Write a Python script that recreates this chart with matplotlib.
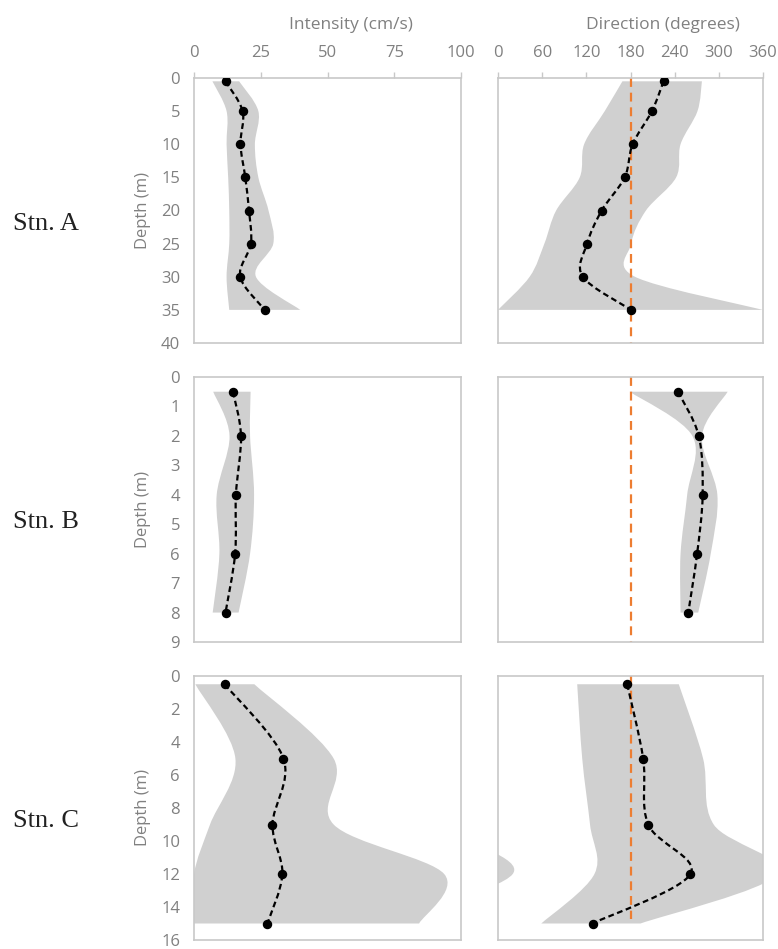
import numpy as np
import matplotlib
matplotlib.use("Agg")
import matplotlib.pyplot as plt
from matplotlib.path import Path
from matplotlib.patches import PathPatch

# ---------------- data ----------------
stations = ["Stn. A", "Stn. B", "Stn. C"]

depth_A = [0.5, 5, 10, 15, 20, 25, 30, 35]
int_mean_A = [11.8, 18.2, 17.4, 19.2, 20.6, 21.3, 17.3, 26.5]
int_low_A = [6.9, 12.2, 12.2, 12.8, 13.2, 13.2, 12.2, 13.2]
int_high_A = [16.9, 24.1, 22.8, 24.1, 27.9, 29.7, 23.2, 39.8]
dir_mean_A = [224.9, 209.1, 182.9, 172.1, 140.9, 121.0, 115.2, 180.7]
dir_low_A = [169, 145, 117, 111, 79, 63, 43, 0]
dir_high_A = [277, 271, 248, 242, 201, 181, 186, 360]

depth_B = [0.5, 2, 4, 6, 8]
int_mean_B = [14.6, 17.6, 15.7, 15.4, 11.8]
int_low_B = [7.2, 13.3, 8.5, 9.5, 7.0]
int_high_B = [21.2, 21.0, 22.5, 21.0, 16.7]
dir_mean_B = [244.5, 272.7, 278.0, 270.5, 258.5]
dir_low_B = [179, 264, 257, 248, 248]
dir_high_B = [312, 277, 298, 289, 272]

depth_C = [0.5, 5, 9, 12, 15]
int_mean_C = [11.5, 33.5, 29.4, 33.1, 27.5]
int_low_C = [0.5, 15.5, 6.0, 0.0, 0.0]
int_high_C = [22.6, 52.3, 52.3, 93.7, 84.3]
dir_mean_C = [175.5, 197.2, 204.0, 261.4, 128.4]
dir_low_C = [107.6, 114.4, 125, 131, 58.8]
dir_high_C = [245.6, 278.6, 293, 380, 193.6]

depth_max = [40, 9, 16]
depth_step = [5, 1, 2]
ref_direction = 180
ref_line_depths = [(0, 40), (0, 9), (0, 14.7)]

int_ticks = [0, 25, 50, 75, 100]
dir_ticks = [0, 60, 120, 180, 240, 300, 360]

# ---------------- style ----------------
W, H = 778, 949
GRAY_TXT = "#808080"
FRAME = "#c8c8c8"
BAND = "#d0d0d0"
ORANGE = "#ED7D31"
FONT = "Open Sans"
TICK_FS = 12

fig = plt.figure(figsize=(W / 100, H / 100), dpi=100)


def smooth_segs(pts):
    pts = np.asarray(pts, float)
    n = len(pts)
    verts, codes = [], []
    for i in range(n - 1):
        p0 = pts[i - 1] if i > 0 else pts[i]
        p1 = pts[i]
        p2 = pts[i + 1]
        p3 = pts[i + 2] if i + 2 < n else pts[i + 1]
        c1 = p1 + (p2 - p0) / 6.0
        c2 = p2 - (p3 - p1) / 6.0
        verts += [tuple(c1), tuple(c2), tuple(p2)]
        codes += [Path.CURVE4] * 3
    return verts, codes


def band_path(depths, low, high, shift=0.0):
    up = [(h + shift, d) for h, d in zip(high, depths)]
    lo = [(l + shift, d) for l, d in zip(low, depths)][::-1]
    verts = [up[0]]
    codes = [Path.MOVETO]
    v, c = smooth_segs(up)
    verts += v
    codes += c
    verts.append(lo[0])
    codes.append(Path.LINETO)
    v, c = smooth_segs(lo)
    verts += v
    codes += c
    verts.append(up[0])
    codes.append(Path.CLOSEPOLY)
    return Path(verts, codes)


def line_path(depths, vals):
    pts = [(v, d) for v, d in zip(vals, depths)]
    verts = [pts[0]]
    codes = [Path.MOVETO]
    v, c = smooth_segs(pts)
    return Path(verts + v, codes + c)


rows_top = [78, 377, 676]
rows_bot = [343, 642, 940]
int_lr = (194, 461)
dir_lr = (498, 763)

data = [
    (depth_A, int_mean_A, int_low_A, int_high_A, dir_mean_A, dir_low_A, dir_high_A),
    (depth_B, int_mean_B, int_low_B, int_high_B, dir_mean_B, dir_low_B, dir_high_B),
    (depth_C, int_mean_C, int_low_C, int_high_C, dir_mean_C, dir_low_C, dir_high_C),
]


def make_ax(lr, top, bot):
    rect = [lr[0] / W, 1 - bot / H, (lr[1] - lr[0]) / W, (bot - top) / H]
    ax = fig.add_axes(rect)
    for s in ax.spines.values():
        s.set_color(FRAME)
        s.set_linewidth(1.2)
    return ax


for r in range(3):
    dep, im, il, ih, dm, dl, dh = data[r]
    top, bot = rows_top[r], rows_bot[r]
    for kind in ("int", "dir"):
        lr = int_lr if kind == "int" else dir_lr
        ax = make_ax(lr, top, bot)
        if kind == "int":
            ax.set_xlim(0, 100)
            ax.add_patch(PathPatch(band_path(dep, il, ih), facecolor=BAND, edgecolor="none", zorder=1))
            mean = im
        else:
            ax.set_xlim(0, 360)
            ax.add_patch(PathPatch(band_path(dep, dl, dh), facecolor=BAND, edgecolor="none", zorder=1))
            ax.add_patch(PathPatch(band_path(dep, dl, dh, shift=-360), facecolor=BAND, edgecolor="none", zorder=1))
            y0, y1 = ref_line_depths[r]
            ax.plot([ref_direction, ref_direction], [y0, y1], color=ORANGE, lw=1.6,
                    ls=(0, (4, 2.6)), zorder=2, clip_on=True)
            mean = dm
        ax.add_patch(PathPatch(line_path(dep, mean), facecolor="none", edgecolor="black",
                               lw=1.6, ls=(0, (2.6, 1.6)), zorder=3))
        ax.plot(mean, dep, "o", color="black", ms=5.8, ls="none", zorder=4)
        ax.set_ylim(depth_max[r], 0)

        # x axis on top
        if r == 0:
            ax.xaxis.tick_top()
            ax.set_xticks(int_ticks if kind == "int" else dir_ticks)
            ax.tick_params(axis="x", which="both", direction="out", length=4, width=1.0,
                           color=FRAME, pad=8, labelsize=TICK_FS, labelcolor=GRAY_TXT)
            for t in ax.get_xticklabels():
                t.set_fontfamily(FONT)
        else:
            ax.set_xticks([])
        if kind == "int":
            yt = np.arange(0, depth_max[r] + 0.01, depth_step[r])
            ax.set_yticks(yt)
            ax.tick_params(axis="y", length=0, pad=10, labelsize=TICK_FS, labelcolor=GRAY_TXT)
            ax.set_yticklabels([f"{v:g}" for v in yt], fontfamily=FONT)
        else:
            ax.set_yticks([])

    ymid = (top + bot) / 2
    fig.text(143 / W, 1 - ymid / H, "Depth (m)", rotation=90, ha="center", va="center",
             fontsize=12, color=GRAY_TXT, fontfamily=FONT)
    fig.text(13 / W, 1 - (ymid + 13) / H, stations[r], ha="left", va="center",
             fontsize=19, color="#222222", fontfamily="Liberation Serif")

fig.text(351 / W, 1 - 25 / H, "Intensity (cm/s)", ha="center", va="center",
         fontsize=12.5, color=GRAY_TXT, fontfamily=FONT)
fig.text(663 / W, 1 - 25 / H, "Direction (degrees)", ha="center", va="center",
         fontsize=12.5, color=GRAY_TXT, fontfamily=FONT)

fig.savefig("out.png", dpi=100)
